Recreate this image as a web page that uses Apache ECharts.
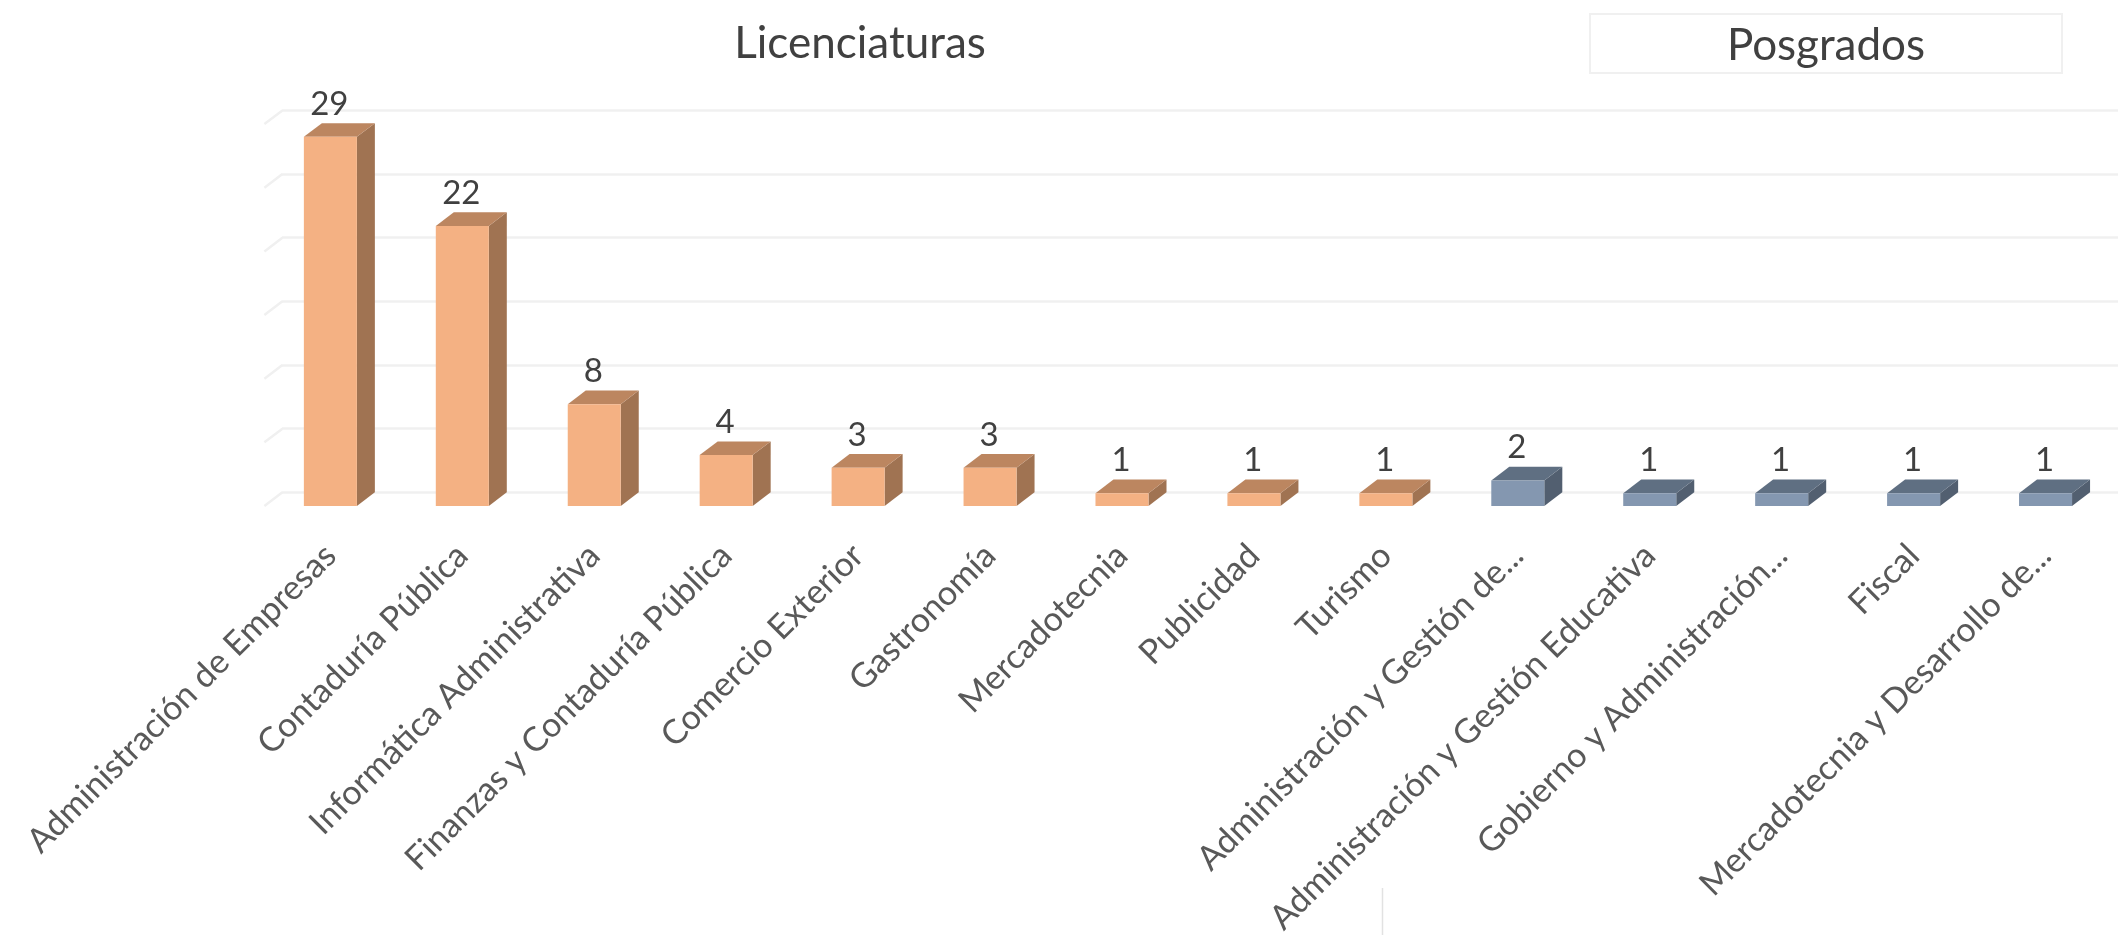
<!DOCTYPE html>
<html><head><meta charset="utf-8">
<style>html,body{margin:0;padding:0;background:#fff}#c{width:2118px;height:935px}</style>
<script src="https://cdn.jsdelivr.net/npm/echarts@6/dist/echarts.min.js"></script>
</head><body><div id="c"></div>
<script>
const categories = ["Administración de Empresas","Contaduría Pública","Informática Administrativa","Finanzas y Contaduría Pública","Comercio Exterior","Gastronomía","Mercadotecnia","Publicidad","Turismo","Administración y Gestión de...","Administración y Gestión Educativa","Gobierno y Administración...","Fiscal","Mercadotecnia y Desarrollo de..."];
const licenciaturas = [29,22,8,4,3,3,1,1,1];
const posgrados = [2,1,1,1,1];
const yTicks = [0,5,10,15,20,25,30];

const FONT = 'Lato';
const DX = 18, DY = 13.7, BARW = 53;
const chart = echarts.init(document.getElementById('c'), null, {renderer:'canvas'});

function bar3d(front, top, side){
  return function(params, api){
    const i = api.value(0), v = api.value(1);
    const b = api.coord([i,0]), t = api.coord([i,v]);
    const x0 = b[0]-BARW/2, x1 = b[0]+BARW/2;
    return {type:'group', children:[
      {type:'polygon', shape:{points:[[x1,t[1]],[x1+DX,t[1]-DY],[x1+DX,b[1]-DY],[x1,b[1]]]}, style:{fill:side}},
      {type:'polygon', shape:{points:[[x0,t[1]],[x0+DX,t[1]-DY],[x1+DX,t[1]-DY],[x1,t[1]]]}, style:{fill:top}},
      {type:'rect', shape:{x:x0,y:t[1],width:BARW,height:b[1]-t[1]}, style:{fill:front}},
      {type:'text', style:{text:String(v), x:b[0]-1, y:t[1]-DY-19, align:'center', verticalAlign:'middle', fill:'#404040', font:'33px '+FONT}}
    ]};
  };
}
function walls(params, api){
  const v = api.value(0);
  const p = api.coord([0,v]);
  const x = p[0]-api.size([1,0])[0]/2;
  return {type:'line', shape:{x1:x,y1:p[1],x2:x+DX,y2:p[1]-DY}, style:{stroke:'#f0f0f0',lineWidth:2.5}};
}

chart.setOption({
  animation:false,
  backgroundColor:'#fff',
  title:[
    {text:'Licenciaturas', left:855, top:39, textAlign:'center', textVerticalAlign:'middle', textStyle:{fontFamily:FONT,fontSize:44,fontWeight:'normal',color:'#404040'}},
    {text:'Posgrados', left:1821, top:41, textAlign:'center', textVerticalAlign:'middle', textStyle:{fontFamily:FONT,fontSize:44,fontWeight:'normal',color:'#404040'}}
  ],
  graphic:[
    {type:'rect', shape:{x:1590,y:14,width:472,height:59}, style:{fill:'none',stroke:'#f0f0f0',lineWidth:2}, z:-1},
    {type:'line', shape:{x1:1382.5,y1:888,x2:1382.5,y2:935}, style:{stroke:'#e2e2e2',lineWidth:1.5}}
  ],
  grid:[
    {left:264.4, right:6.5, top:124.1, height:381.9, outerBoundsMode:'none'},
    {left:282, right:0, top:110.3, height:381.9, outerBoundsMode:'none'}
  ],
  xAxis:[
    {type:'category', gridIndex:0, data:categories, axisLine:{show:false}, axisTick:{show:false}, splitLine:{show:false},
     axisLabel:{interval:0, rotate:45, margin:44, fontFamily:FONT, fontSize:34, color:'#595959', hideOverlap:false}},
    {type:'category', gridIndex:1, data:categories, show:false}
  ],
  yAxis:[
    {type:'value', gridIndex:0, min:0, max:30, interval:5, axisLabel:{show:false}, axisLine:{show:false}, axisTick:{show:false}, splitLine:{show:false}},
    {type:'value', gridIndex:1, min:0, max:30, interval:5, axisLabel:{show:false}, axisLine:{show:false}, axisTick:{show:false}, splitLine:{show:true,lineStyle:{color:'#f0f0f0',width:2.5}}}
  ],
  series:[
    {type:'custom', name:'ejes', xAxisIndex:0, yAxisIndex:0, silent:true, renderItem:walls, data:yTicks.map(v=>[v]), encode:{y:0}, z:1},
    {type:'custom', name:'Licenciaturas', xAxisIndex:0, yAxisIndex:0, renderItem:bar3d('#F4B183','#BC8660','#A07352'), data:licenciaturas.map((v,i)=>[i,v]), encode:{x:0,y:1}, z:3},
    {type:'custom', name:'Posgrados', xAxisIndex:0, yAxisIndex:0, renderItem:bar3d('#8497B0','#5F6F82','#525F70'), data:posgrados.map((v,i)=>[i+licenciaturas.length,v]), encode:{x:0,y:1}, z:3}
  ]
});
</script></body></html>
